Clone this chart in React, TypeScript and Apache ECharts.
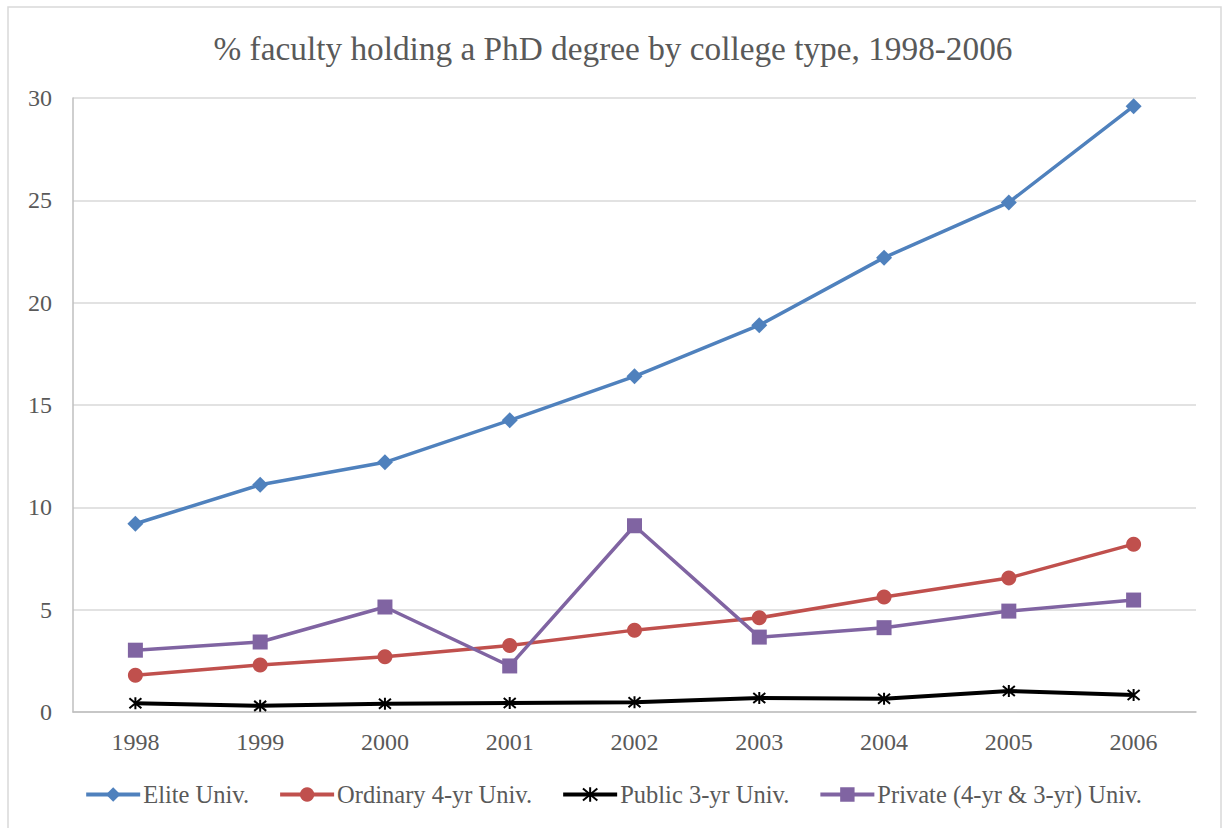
import React, { useEffect, useRef } from "react";
import * as echarts from "echarts";

const years = ["1998", "1999", "2000", "2001", "2002", "2003", "2004", "2005", "2006"];
const elite = [9.2, 11.1, 12.2, 14.25, 16.4, 18.9, 22.2, 24.9, 29.6];
const ordinary = [1.8, 2.3, 2.7, 3.25, 4.0, 4.6, 5.62, 6.55, 8.2];
const public3 = [0.43, 0.3, 0.4, 0.44, 0.48, 0.68, 0.65, 1.03, 0.83];
const privateU = [3.02, 3.42, 5.13, 2.25, 9.1, 3.66, 4.12, 4.93, 5.47];
const yTicks = { min: 0, max: 30, interval: 5 };

const FONT = "'Liberation Serif', 'DejaVu Serif', serif";
const starPath = "path://M0,0 L10,10 M10,0 L0,10 M5,-1 L5,11";

export default function App() {
  const ref = useRef<HTMLDivElement>(null);
  useEffect(() => {
    const chart = echarts.init(ref.current!, null, { renderer: "svg" });
    const mk = (name: string, data: number[], color: string, symbol: string, size: number, extra: any = {}) => ({
      name,
      type: "line",
      data,
      symbol,
      symbolSize: size,
      lineStyle: { color, width: 3.5 },
      itemStyle: { color, ...extra },
      emphasis: { disabled: true },
    });
    chart.setOption({
      animation: false,
      backgroundColor: "#ffffff",
      textStyle: { fontFamily: FONT },
      title: {
        text: "% faculty holding a PhD degree by college type, 1998-2006",
        left: "center",
        top: 27,
        textStyle: { fontFamily: FONT, fontSize: 33.3, fontWeight: "normal", color: "#595959" },
      },
      graphic: [
        {
          type: "rect",
          shape: { x: 8, y: 7, width: 1213, height: 830 },
          style: { fill: "none", stroke: "#d9d9d9", lineWidth: 1.5 },
          silent: true,
        },
      ],
      grid: { left: 73, top: 98, right: 30, bottom: 116 },
      legend: {
        bottom: 16,
        left: "center",
        itemWidth: 54,
        itemHeight: 18,
        itemGap: 29,
        lineStyle: { width: 4 },
        textStyle: { fontFamily: FONT, fontSize: 24.5, color: "#595959", padding: [0, 0, 0, -2] },
        data: ["Elite Univ.", "Ordinary 4-yr Univ.", "Public 3-yr Univ.", "Private (4-yr & 3-yr) Univ."],
      },
      xAxis: {
        type: "category",
        data: years,
        boundaryGap: true,
        axisLine: { lineStyle: { color: "#bfbfbf", width: 1.5 } },
        axisTick: { show: false },
        axisLabel: { fontFamily: FONT, fontSize: 24, color: "#595959", margin: 18 },
      },
      yAxis: {
        type: "value",
        min: yTicks.min,
        max: yTicks.max,
        interval: yTicks.interval,
        axisLine: { show: true, lineStyle: { color: "#bfbfbf", width: 1.5 } },
        axisTick: { show: false },
        splitLine: { lineStyle: { color: "#d9d9d9", width: 1.5 } },
        axisLabel: { fontFamily: FONT, fontSize: 24, color: "#595959", margin: 21 },
      },
      series: [
        mk("Elite Univ.", elite, "#4f81bd", "diamond", 16),
        mk("Ordinary 4-yr Univ.", ordinary, "#c0504d", "circle", 15),
        {
          ...mk("Public 3-yr Univ.", public3, "#000000", starPath, 12, {
            color: "none",
            borderColor: "#000000",
            borderWidth: 2,
          }),
          lineStyle: { color: "#000000", width: 4 },
        },
        mk("Private (4-yr & 3-yr) Univ.", privateU, "#8064a2", "rect", 15),
      ],
    });
    return () => chart.dispose();
  }, []);
  return (
    <div
      ref={ref}
      style={{ position: "fixed", left: 0, top: 0, width: 1226, height: 828 }}
    />
  );
}
